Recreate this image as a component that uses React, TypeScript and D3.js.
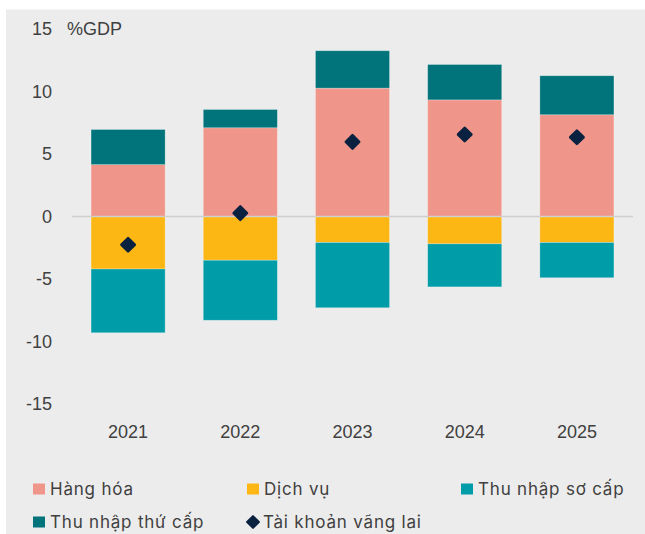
import React from "react";
import * as d3 from "d3";

const years = ["2021", "2022", "2023", "2024", "2025"];
const hangHoa = [4.15, 7.1, 10.27, 9.33, 8.14];
const dichVu = [-4.2, -3.5, -2.08, -2.19, -2.08];
const thuNhapSoCap = [-5.1, -4.8, -5.22, -3.44, -2.82];
const thuNhapThuCap = [2.81, 1.46, 2.99, 2.83, 3.12];
const taiKhoanVangLai = [-2.26, 0.27, 5.97, 6.56, 6.34];
const yTicks = [15, 10, 5, 0, -5, -10, -15];

const COLORS = {
  hangHoa: "#F0958A",
  dichVu: "#FDB714",
  soCap: "#009CA7",
  thuCap: "#00747A",
  diamond: "#0A2240",
};

const W = 645;
const H = 534;

export default function App() {
  const x = d3
    .scaleBand<string>()
    .domain(years)
    .range([72, 633])
    .paddingInner(0.34)
    .paddingOuter(0.17);
  const y = d3.scaleLinear().domain([-15, 15]).range([404, 29]);
  const bw = x.bandwidth();

  type Seg = { key: string; year: string; y0: number; y1: number; color: string };
  const segs: Seg[] = [];
  years.forEach((yr, i) => {
    segs.push({ key: "hh" + i, year: yr, y0: 0, y1: hangHoa[i], color: COLORS.hangHoa });
    segs.push({ key: "tc" + i, year: yr, y0: hangHoa[i], y1: hangHoa[i] + thuNhapThuCap[i], color: COLORS.thuCap });
    segs.push({ key: "dv" + i, year: yr, y0: 0, y1: dichVu[i], color: COLORS.dichVu });
    segs.push({ key: "sc" + i, year: yr, y0: dichVu[i], y1: dichVu[i] + thuNhapSoCap[i], color: COLORS.soCap });
  });

  const diamondPath = d3.symbol().type(d3.symbolSquare).size(90)() as string;

  const tickFont = "'Liberation Sans', Arial, sans-serif";
  const legendFont = "Inter, 'Liberation Sans', sans-serif";
  const textColor = "#404040";

  const legendSquares = [
    { label: "Hàng hóa", color: COLORS.hangHoa, x: 33, y: 489 },
    { label: "Dịch vụ", color: COLORS.dichVu, x: 247, y: 489 },
    { label: "Thu nhập sơ cấp", color: COLORS.soCap, x: 461, y: 489 },
    { label: "Thu nhập thứ cấp", color: COLORS.thuCap, x: 33, y: 522 },
  ];

  return (
    <div style={{ position: "absolute", left: 0, top: 0 }}>
      <svg width={W} height={H} style={{ display: "block" }}>
        <rect x={0} y={0} width={W} height={H} fill="#ffffff" />
        <rect x={6} y={9.5} width={W - 6} height={H - 9.5} fill="#ECECEC" />

        {segs.map((s) => (
          <rect
            key={s.key}
            x={x(s.year)}
            y={Math.min(y(s.y0), y(s.y1))}
            width={bw}
            height={Math.abs(y(s.y1) - y(s.y0))}
            fill={s.color}
            stroke="#ffffff"
            strokeOpacity={0.35}
            strokeWidth={0.75}
          />
        ))}

        <line x1={72} x2={633} y1={y(0)} y2={y(0)} stroke="#CFCFCF" strokeWidth={1.5} />

        {years.map((yr, i) => (
          <path
            key={"d" + yr}
            d={diamondPath}
            transform={`translate(${(x(yr) as number) + bw / 2},${y(taiKhoanVangLai[i])}) rotate(45)`}
            fill={COLORS.diamond}
            stroke={COLORS.diamond}
            strokeWidth={2.5}
            strokeLinejoin="round"
          />
        ))}

        {yTicks.map((t) => (
          <text
            key={"yt" + t}
            x={52}
            y={y(t)}
            dy="0.35em"
            textAnchor="end"
            fontFamily={tickFont}
            fontSize={18}
            fill={textColor}
          >
            {t}
          </text>
        ))}
        <text x={67} y={y(15)} dy="0.35em" fontFamily={tickFont} fontSize={18} fill={textColor}>
          %GDP
        </text>

        {years.map((yr) => (
          <text
            key={"xt" + yr}
            x={(x(yr) as number) + bw / 2}
            y={432}
            dy="0.35em"
            textAnchor="middle"
            fontFamily={tickFont}
            fontSize={18}
            fill={textColor}
          >
            {yr}
          </text>
        ))}

        {legendSquares.map((l) => (
          <g key={l.label}>
            <rect x={l.x} y={l.y - 5.5} width={12} height={11} fill={l.color} />
            <text
              x={l.x + 17}
              y={l.y}
              dy="0.35em"
              fontFamily={legendFont}
              fontSize={17}
              letterSpacing={0.8}
              fill={textColor}
            >
              {l.label}
            </text>
          </g>
        ))}
        <path
          d={d3.symbol().type(d3.symbolSquare).size(70)() as string}
          transform={`translate(253,522) rotate(45)`}
          fill={COLORS.diamond}
          stroke={COLORS.diamond}
          strokeWidth={2}
          strokeLinejoin="round"
        />
        <text
          x={263}
          y={522}
          dy="0.35em"
          fontFamily={legendFont}
          fontSize={17}
          letterSpacing={0.8}
          fill={textColor}
        >
          Tài khoản vãng lai
        </text>
      </svg>
    </div>
  );
}
